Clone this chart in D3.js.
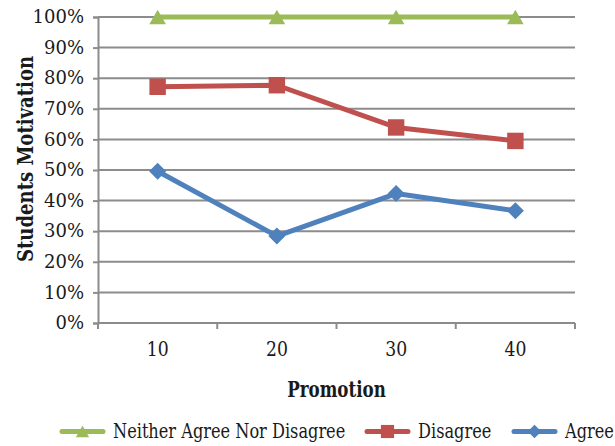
<!DOCTYPE html>
<html>
<head>
<meta charset="utf-8">
<script src="https://cdn.jsdelivr.net/npm/d3@7"></script>
<style>
  html, body { margin: 0; padding: 0; background: #fff; }
  svg text { fill: #1a1a1a; font-family: "DejaVu Serif", "Liberation Serif", serif; }
</style>
</head>
<body>
<svg id="chart" width="615" height="446"></svg>
<script>
// Promotion categories and the share of students in each response group
const categories = ["10", "20", "30", "40"];
const neitherValues = [100, 100, 100, 100];
const disagreeValues = [77.2, 77.7, 63.9, 59.5];
const agreeValues = [49.6, 28.4, 42.3, 36.7];
const yTicks = [0, 10, 20, 30, 40, 50, 60, 70, 80, 90, 100];

// horizontal squeeze giving the serif text a narrow, condensed look
const SQUEEZE = 0.82;
const SQUEEZE_LEGEND = 0.77;
const SQUEEZE_XTITLE = 0.76;

// marker builders: triangle, square, and a square turned 45 degrees
const markers = {
  triangle: { path: d3.symbol().type(d3.symbolTriangle).size(120)(), rotate: 0, dy: 2.4 },
  square: { path: d3.symbol().type(d3.symbolSquare).size(270)(), rotate: 0, dy: 0 },
  diamond: { path: d3.symbol().type(d3.symbolSquare).size(145)(), rotate: 45, dy: 0 }
};

const series = [
  { name: "Neither Agree Nor Disagree", values: neitherValues, color: "#9BBB59", marker: "triangle" },
  { name: "Disagree", values: disagreeValues, color: "#C0504D", marker: "square" },
  { name: "Agree", values: agreeValues, color: "#4F81BD", marker: "diamond" }
];

const svg = d3.select("#chart");
const margin = { left: 98, right: 40, top: 17, bottom: 123 };
const width = 615 - margin.left - margin.right;
const height = 446 - margin.top - margin.bottom;

const x = d3.scaleBand().domain(categories).range([0, width]);
const y = d3.scaleLinear().domain([0, 100]).range([height, 0]);
const cx = c => x(c) + x.bandwidth() / 2;

const g = svg.append("g").attr("transform", `translate(${margin.left},${margin.top})`);

// horizontal gridlines
g.append("g")
  .selectAll("line")
  .data(yTicks)
  .join("line")
  .attr("x1", 0).attr("x2", width)
  .attr("y1", d => y(d)).attr("y2", d => y(d))
  .attr("stroke", "#8c8c8c").attr("stroke-width", 2);

// y axis
const yAxis = g.append("g")
  .call(d3.axisLeft(y).tickValues(yTicks).tickFormat(d => d + "%").tickSize(5).tickPadding(9));
yAxis.select(".domain").attr("stroke", "#8c8c8c").attr("stroke-width", 2);
yAxis.selectAll(".tick line").attr("stroke", "#8c8c8c").attr("stroke-width", 2);
yAxis.attr("font-family", null);
yAxis.selectAll(".tick text").style("font-size", "18px").attr("fill", "#1a1a1a");

// x axis with ticks on band boundaries
const xAxis = g.append("g").attr("transform", `translate(0,${height})`);
xAxis.append("line").attr("x1", 0).attr("x2", width).attr("stroke", "#8c8c8c").attr("stroke-width", 2);
const bounds = categories.map(c => x(c)).concat([width]);
xAxis.selectAll("line.tick")
  .data(bounds)
  .join("line")
  .attr("class", "tick")
  .attr("x1", d => d).attr("x2", d => d)
  .attr("y1", 0).attr("y2", 6)
  .attr("stroke", "#8c8c8c").attr("stroke-width", 2);
xAxis.selectAll("text")
  .data(categories)
  .join("text")
  .attr("transform", d => `translate(${cx(d)},33) scale(${SQUEEZE},1)`)
  .attr("text-anchor", "middle")
  .style("font-size", "21px")
  .text(d => d);

// series lines and markers
const line = d3.line()
  .x((d, i) => cx(categories[i]))
  .y(d => y(d));

series.forEach(s => {
  const m = markers[s.marker];
  g.append("path")
    .datum(s.values)
    .attr("fill", "none")
    .attr("stroke", s.color)
    .attr("stroke-width", 5)
    .attr("stroke-linejoin", "round")
    .attr("d", line);
  g.append("g")
    .selectAll("path")
    .data(s.values)
    .join("path")
    .attr("transform", (d, i) => `translate(${cx(categories[i])},${y(d) + m.dy}) rotate(${m.rotate})`)
    .attr("d", m.path)
    .attr("fill", s.color);
});

// axis titles
svg.append("text")
  .attr("transform", `translate(33,159) rotate(-90) scale(${SQUEEZE},1)`)
  .attr("text-anchor", "middle")
  .style("font-size", "22px").style("font-weight", "bold")
  .text("Students Motivation");

svg.append("text")
  .attr("transform", `translate(${margin.left + width / 2},397) scale(${SQUEEZE_XTITLE},1)`)
  .attr("text-anchor", "middle")
  .style("font-size", "22px").style("font-weight", "bold")
  .text("Promotion");

// legend
const legendX = [60, 365, 512];
const legend = svg.append("g");
series.forEach((s, i) => {
  const m = markers[s.marker];
  const lg = legend.append("g").attr("transform", `translate(${legendX[i]},431.5)`);
  lg.append("line").attr("x1", 2).attr("x2", 43).attr("stroke", s.color).attr("stroke-width", 5).attr("stroke-linecap", "round");
  lg.append("path")
    .attr("transform", `translate(22.5,${m.dy * 0.8}) rotate(${m.rotate}) scale(0.8)`)
    .attr("d", m.path)
    .attr("fill", s.color);
  lg.append("text")
    .attr("transform", `translate(53,6.5) scale(${SQUEEZE_LEGEND},1)`)
    .style("font-size", "21px")
    .text(s.name);
});
</script>
</body>
</html>
